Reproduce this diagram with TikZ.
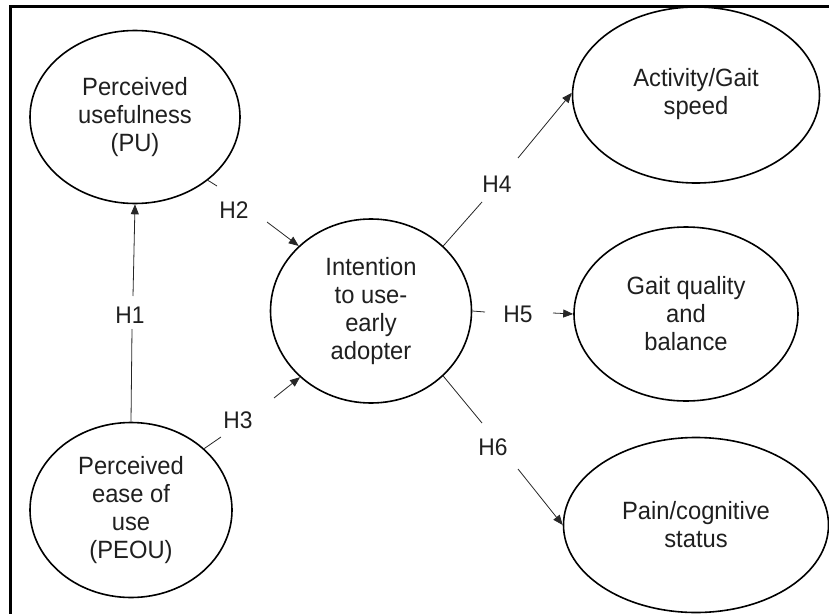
\documentclass[tikz,border=0pt]{standalone}
\usepackage{fontspec}
\setmainfont{Liberation Sans}[FakeStretch=0.95]
\usetikzlibrary{shapes.geometric,arrows.meta}
\begin{document}
\begin{tikzpicture}[x=1pt,y=-1pt,
  construct/.style={ellipse, draw=black, line width=1.6pt, inner sep=0pt, align=center,
    text=black!88, font=\fontsize{25}{28}\selectfont},
  hlabel/.style={inner sep=0pt, text=black!88, font=\fontsize{24}{26}\selectfont},
  conn/.style={line width=0.8pt, draw=black!85},
  arr/.style={conn, -{Triangle[length=10pt,width=8pt]}},
  frameline/.style={line width=2.3pt, draw=black}
]
\useasboundingbox (0,0) rectangle (829,615);
% frame (top and left edges shown)
\coordinate (ftr) at (829,6.5);
\coordinate (ftl) at (10.5,6.5);
\coordinate (fbl) at (10.5,614);
\draw[frameline] (ftr) -- (ftl) -- (fbl);

% constructs
\node[construct, minimum width=210pt, minimum height=173pt] (pu) at (135,117) {Perceived\\usefulness\\(PU)};
\node[construct, minimum width=202pt, minimum height=175pt] (peou) at (131,510) {Perceived\\ease of\\use\\(PEOU)};
\node[construct, minimum width=201pt, minimum height=184pt] (int) at (371,311) {Intention\\to use-\\early\\adopter};
\node[construct, minimum width=247pt, minimum height=176pt] (act) at (696,95) {\raisebox{-6pt}{\begin{tabular}{@{}c@{}}Activity/Gait\\speed\end{tabular}}};
\node[construct, minimum width=224pt, minimum height=174pt] (gait) at (686,314) {Gait quality\\and\\balance};
\node[construct, minimum width=265pt, minimum height=175pt] (pain) at (696,525) {Pain/cognitive\\status};

% hypothesis labels
\node[hlabel] (h1) at (130,315) {H1};
\node[hlabel] (h2) at (234,210) {H2};
\node[hlabel] (h3) at (238,420) {H3};
\node[hlabel] (h4) at (497,184) {H4};
\node[hlabel] (h5) at (518,314) {H5};
\node[hlabel] (h6) at (493,447) {H6};

% gap end points around labels
\coordinate (c1a) at (132,329);
\coordinate (c1b) at (133,296);
\coordinate (c2a) at (217,186);
\coordinate (c2b) at (267,222);
\coordinate (c3a) at (221,437);
\coordinate (c3b) at (274,398);
\coordinate (c4a) at (482,202);
\coordinate (c4b) at (518,158);
\coordinate (c5a) at (485,312);
\coordinate (c5b) at (553,313);
\coordinate (c6a) at (482,423);
\coordinate (c6b) at (518,469);

% connectors
\draw[conn] (peou.north) -- (c1a);
\draw[arr] (c1b) -- (pu.south);
\draw[conn] (pu.-41) -- (c2a);
\draw[arr] (c2b) -- (int.138);
\draw[conn] (peou.40) -- (c3a);
\draw[arr] (c3b) -- (int.-137);
\draw[conn] (int.42) -- (c4a);
\draw[arr] (c4b) -- (act.179);
\draw[conn] (int.east) -- (c5a);
\draw[arr] (c5b) -- (gait.west);
\draw[conn] (int.-42) -- (c6a);
\draw[arr] (c6b) -- (pain.west);
\end{tikzpicture}
\end{document}
